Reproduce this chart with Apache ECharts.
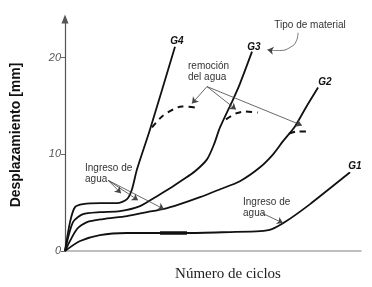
<!DOCTYPE html>
<html>
<head>
<meta charset="utf-8">
<script src="https://cdn.jsdelivr.net/npm/echarts@6/dist/echarts.min.js"></script>
<style>
  html, body { margin: 0; padding: 0; background: #fff; }
  #chart { width: 372px; height: 287px; }
</style>
</head>
<body>
<div id="chart"></div>
<script>
// x = ciclos (relative 0..100), y = desplazamiento [mm]
var g1 = [[0, 0], [5.1, 1.03], [11.8, 1.65], [20.9, 1.86], [32.1, 1.86], [41.2, 1.86],
  [55.7, 1.96], [65.9, 2.06], [69.9, 2.27], [74.3, 2.99], [82.8, 4.85], [96.3, 8.14]];
var g1Thick = [[32.1, 1.86], [41.2, 1.86]];

var g2 = [[0, 0], [4.05, 2.27], [7.43, 2.99], [12.84, 3.3], [20.95, 3.61], [27.7, 4.02],
  [33.1, 4.33], [38.85, 4.85], [45.6, 5.57], [52.4, 6.39], [59.1, 7.22], [65.9, 8.66],
  [70.3, 10.0], [73.6, 11.34], [77.7, 12.89], [81.4, 14.85], [85.5, 16.91]];
var g2Dry = [[75.7, 12.16], [78.4, 12.37], [81.4, 12.37]];

var g3 = [[0, 0], [2.7, 2.99], [6.08, 3.81], [11.82, 4.02], [18.58, 4.12], [25.34, 4.64],
  [31.08, 5.67], [35.47, 6.49], [39.53, 7.32], [43.92, 8.25], [47.97, 9.48], [50.34, 11.03],
  [52.36, 12.78], [56.76, 15.67], [59.12, 17.32], [63.18, 20.62]];
var g3Dry = [[54.39, 13.61], [57.77, 14.23], [60.81, 14.43], [65.2, 14.33]];

var g4 = [[0, 0], [1.69, 2.99], [3.38, 4.54], [6.08, 4.85], [11.82, 4.95], [17.57, 4.95],
  [20.95, 5.36], [22.64, 6.39], [24.32, 8.45], [28.72, 12.58], [37.16, 21.13]];
var g4Dry = [[29.39, 12.78], [32.77, 13.92], [36.49, 14.64], [39.53, 14.95], [43.92, 14.85]];

var yTicks = [0, 10, 20];

// curve names and where they are written
var curveLabels = [
  { name: 'G4', coord: [37.84, 21.65] },
  { name: 'G3', coord: [63.85, 21.03] },
  { name: 'G2', coord: [87.84, 17.42] },
  { name: 'G1', coord: [97.97, 8.76] }
];

// annotation texts (left edge, middle)
var notes = [
  { name: 'remoción\ndel agua', coord: [41.55, 18.5] },
  { name: 'Ingreso de\nagua', coord: [6.76, 7.94] },
  { name: 'Ingreso de\nagua', coord: [60.14, 4.43] }
];
var noteTitle = { name: 'Tipo de material', coord: [82.77, 23.4] };

// annotation arrows [from, to]
var arrows = [
  [[47.97, 17.01], [42.9, 15.26]],
  [[47.97, 17.01], [57.77, 14.64]],
  [[47.97, 17.01], [80.07, 12.99]],
  [[14.53, 7.32], [18.92, 5.98]],
  [[14.53, 7.32], [24.66, 5.26]],
  [[14.53, 7.32], [33.45, 4.33]],
  [[66.55, 3.92], [73.65, 2.89]],
  [[69.93, 20.74], [68.4, 20.82]]
];
// hooked pointer from "Tipo de material" to G3
var hook = [[78.72, 22.58], [78.2, 21.75], [76.0, 21.05], [72.5, 20.74], [69.9, 20.74]];

var chart = echarts.init(document.getElementById('chart'));

function curve(data) {
  return {
    type: 'line', data: data, smooth: 0.25, symbol: 'none', silent: true,
    lineStyle: { color: '#111', width: 1.8 }
  };
}
function dry(data) {
  return {
    type: 'line', data: data, smooth: 0.3, symbol: 'none', silent: true,
    lineStyle: { color: '#111', width: 2, type: [6, 5] }
  };
}

var arrowLines = arrows.map(function (a) {
  return [{ coord: a[0] }, { coord: a[1] }];
});

chart.setOption({
  animation: false,
  textStyle: { fontFamily: 'Liberation Sans' },
  grid: { left: 65, right: 11, top: 19, bottom: 35 },
  xAxis: {
    type: 'value', min: 0, max: 100,
    axisLine: { lineStyle: { color: '#aaa', width: 1.5 } },
    axisTick: { show: false }, axisLabel: { show: false }, splitLine: { show: false },
    name: 'Número de ciclos', nameLocation: 'middle', nameGap: 16,
    nameTextStyle: { fontFamily: 'Liberation Serif', fontSize: 15, color: '#222', padding: [0, 0, 0, 30] }
  },
  yAxis: {
    type: 'value', min: 0, max: 24, interval: 10,
    axisLine: { show: true, symbol: ['none', 'triangle'], symbolSize: [7, 9], lineStyle: { color: '#555', width: 1.2 } },
    axisTick: { show: true, length: 4, customValues: yTicks, lineStyle: { color: '#666' } },
    axisLabel: {
      color: '#555', fontStyle: 'italic', fontSize: 11, margin: 4, customValues: yTicks
    },
    splitLine: { show: false },
    name: 'Desplazamiento [mm]', nameLocation: 'middle', nameGap: 42,
    nameTextStyle: { fontWeight: 'bold', fontSize: 14, color: '#111' }
  },
  series: [
    curve(g1), curve(g2), curve(g3), curve(g4),
    { type: 'line', data: g1Thick, symbol: 'none', silent: true, lineStyle: { color: '#111', width: 3.5 } },
    dry(g2Dry), dry(g3Dry), dry(g4Dry),
    {
      type: 'line', data: hook, smooth: 0.5, symbol: 'none', silent: true,
      lineStyle: { color: '#555', width: 0.8 }
    },
    {
      type: 'line', data: [], silent: true,
      markLine: {
        silent: true, symbol: ['none', 'arrow'], symbolSize: 6,
        lineStyle: { color: '#444', width: 0.8, type: 'solid' },
        label: { show: false },
        data: arrowLines
      },
      markPoint: {
        silent: true, symbol: 'circle', symbolSize: 0,
        label: {
          show: true, position: 'inside', color: '#333', fontSize: 10, lineHeight: 11,
          formatter: function (p) { return p.name; }
        },
        data: curveLabels.map(function (c) {
          return { name: c.name, coord: c.coord, label: { fontWeight: 'bold', fontStyle: 'italic', color: '#111' } };
        }).concat(notes.map(function (n) {
          return { name: n.name, coord: n.coord, label: { align: 'left' } };
        })).concat([{ name: noteTitle.name, coord: noteTitle.coord }])
      }
    }
  ]
});
</script>
</body>
</html>
